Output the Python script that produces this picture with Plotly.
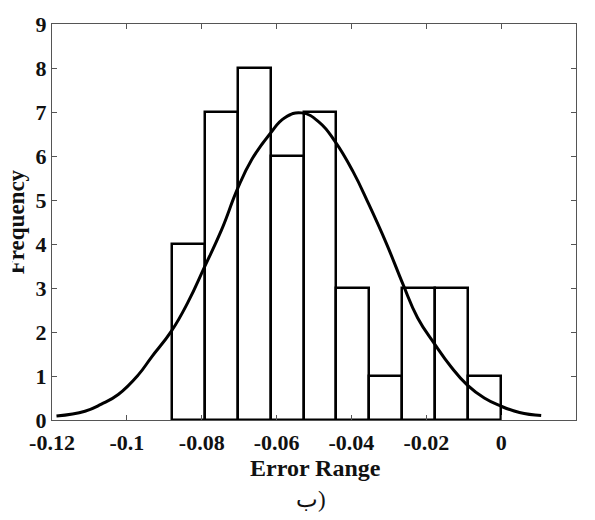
import plotly.graph_objects as go

# Histogram data
bin_centers = [-0.0836, -0.0748, -0.0660, -0.0572, -0.0484, -0.0396, -0.0308, -0.0220, -0.0132, -0.0044]
bin_width = 0.0088
counts = [4, 7, 8, 6, 7, 3, 1, 3, 3, 1]

# Fitted curve
curve_x = [-0.1188, -0.1112, -0.1068, -0.1023, -0.0970, -0.0934, -0.0881, -0.0836,
           -0.0793, -0.0747, -0.0705, -0.0667, -0.0618, -0.0578, -0.0533, -0.0485,
           -0.0443, -0.0396, -0.0354, -0.0307, -0.0263, -0.0223, -0.0178, -0.0134,
           -0.0091, -0.0045, -0.0002, 0.0049, 0.0107]
curve_y = [0.09, 0.20, 0.36, 0.58, 1.02, 1.43, 2.02, 2.69,
           3.47, 4.32, 5.24, 5.91, 6.50, 6.87, 6.98, 6.76,
           6.32, 5.65, 4.91, 4.02, 3.10, 2.32, 1.73, 1.21,
           0.80, 0.50, 0.32, 0.17, 0.10]

x_ticks = [-0.12, -0.1, -0.08, -0.06, -0.04, -0.02, 0, 0.02]
x_ticklabels = ["-0.12", "-0.1", "-0.08", "-0.06", "-0.04", "-0.02", "0", "0.02"]
y_ticks = [0, 1, 2, 3, 4, 5, 6, 7, 8, 9]

FONT = "Liberation Serif"
TXT = "#111111"

fig = go.Figure()
fig.add_trace(go.Bar(
    x=bin_centers, y=counts, width=[bin_width] * len(counts),
    marker=dict(color="white", line=dict(color="black", width=2.5)),
    showlegend=False, hoverinfo="skip"))
fig.add_trace(go.Scatter(
    x=curve_x, y=curve_y, mode="lines",
    line=dict(color="black", width=3, shape="spline", smoothing=1.3),
    showlegend=False, hoverinfo="skip"))

L, R, T, B = 52, 19, 15, 99.5
W, H = 595, 520
pw = W - L - R
ph = H - T - B

def px_x(p):
    return (p - L) / pw

def px_y(p):
    return (H - B - p) / ph

axis_common = dict(
    showgrid=False, zeroline=False, showline=True, linecolor="#555555", linewidth=1,
    mirror="ticks", ticks="inside", ticklen=5, tickcolor="#555555", tickwidth=1,
    tickfont=dict(family=FONT, size=22, color=TXT, weight="bold"),
)

fig.update_layout(
    width=W, height=H,
    margin=dict(l=L, r=R, t=T, b=B),
    paper_bgcolor="white", plot_bgcolor="white",
    bargap=0,
    xaxis=dict(range=[-0.12, 0.02], tickvals=x_ticks, ticktext=x_ticklabels,
               ticklabelstandoff=3, **axis_common),
    yaxis=dict(range=[0, 9], tickvals=y_ticks, **axis_common),
    font=dict(family=FONT),
    annotations=[
        dict(text="<b>Error Range</b>", xref="paper", yref="paper",
             x=px_x(315), y=px_y(470), xanchor="center", yanchor="middle",
             showarrow=False, font=dict(family=FONT, size=24, color=TXT)),
        dict(text="<b>Frequency</b>", xref="paper", yref="paper",
             x=px_x(16), y=px_y(218), xanchor="center", yanchor="middle",
             textangle=-90, showarrow=False, font=dict(family=FONT, size=23, color=TXT)),
        dict(text="ب)", xref="paper", yref="paper",
             x=px_x(311), y=px_y(502), xanchor="center", yanchor="middle",
             showarrow=False, font=dict(family=FONT, size=23, color=TXT)),
        dict(text=" ", xref="paper", yref="paper",
             x=px_x(5.5), y=px_y(268), xanchor="center", yanchor="middle",
             width=11, height=30, bgcolor="white", showarrow=False,
             font=dict(size=4)),
    ],
)

fig.write_html("out.html")
